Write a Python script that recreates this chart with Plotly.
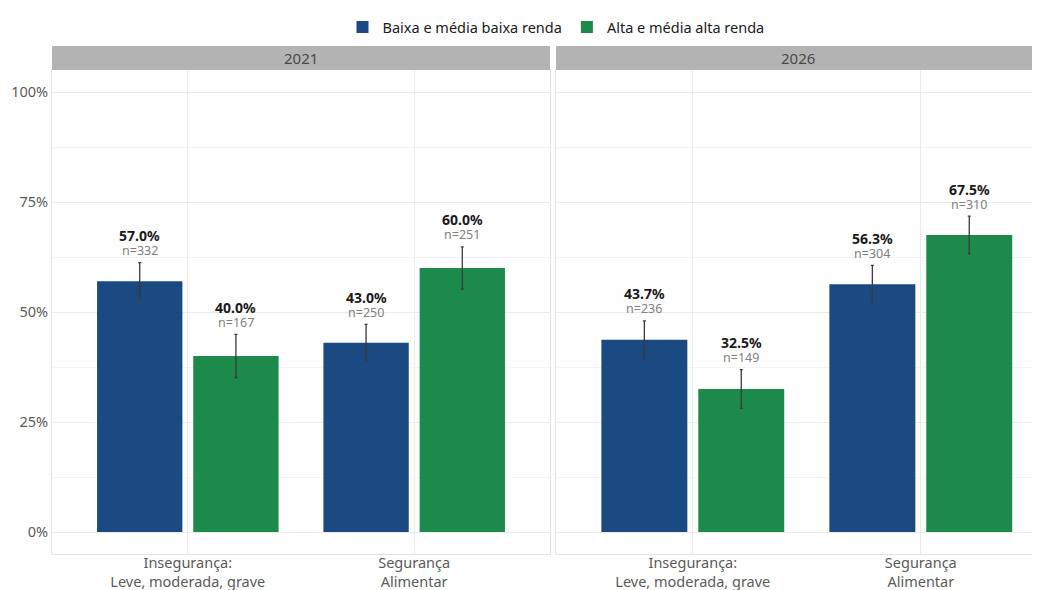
import plotly.graph_objects as go

categories = ["Insegurança:<br>Leve, moderada, grave", "Segurança<br>Alimentar"]
years = ["2021", "2026"]
series_names = ["Baixa e média baixa renda", "Alta e média alta renda"]
colors = ["#1B4A82", "#1C8A4A"]

values_2021 = {"low": [57.0, 43.0], "high": [40.0, 60.0]}
values_2026 = {"low": [43.7, 56.3], "high": [32.5, 67.5]}
err_2021 = {"low": [4.2, 4.2], "high": [4.9, 4.8]}
err_2026 = {"low": [4.3, 4.3], "high": [4.4, 4.3]}
n_2021 = {"low": [332, 250], "high": [167, 251]}
n_2026 = {"low": [236, 304], "high": [149, 310]}

panels = [
    (values_2021, err_2021, n_2021, "x", "y"),
    (values_2026, err_2026, n_2026, "x2", "y2"),
]

BARGAP = 0.15
GROUPGAP = 0.113
slot = (1 - BARGAP) / 2

fig = go.Figure()
annotations = []
FONT = "Noto Sans"
for pi, (vals, errs, ns, xa, ya) in enumerate(panels):
    for si, key in enumerate(["low", "high"]):
        fig.add_trace(go.Bar(
            x=categories, y=vals[key], name=series_names[si],
            marker=dict(color=colors[si], line=dict(width=0)),
            error_y=dict(type="data", array=errs[key], color="#3a3a3a", thickness=1.3, width=1.5),
            xaxis=xa, yaxis=ya, showlegend=(pi == 0),
            legendgroup=key,
        ))
        off = -slot / 2 if si == 0 else slot / 2
        for ci in range(len(categories)):
            top = vals[key][ci] + errs[key][ci]
            annotations.append(dict(
                x=ci + off, y=top, xref=xa, yref=ya, text="<b>%.1f%%</b>" % vals[key][ci],
                showarrow=False, yanchor="middle", yshift=27,
                font=dict(family=FONT, size=14, color="#1a1a1a")))
            annotations.append(dict(
                x=ci + off, y=top, xref=xa, yref=ya, text="n=%d" % ns[key][ci],
                showarrow=False, yanchor="middle", yshift=12,
                font=dict(family=FONT, size=12.5, color="#808080")))

# page body has an 8px margin: figure occupies (8,8)-(1040,590)
OFF = 8
W, H = 1040 - OFF, 590 - OFF
ml, mr, mt, mb = 52 - OFF, 0, 70 - OFF, 36
pw = W - ml - mr
ph = H - mt - mb
x1_end = (550 - 52) / pw
x2_start = (556 - 52) / pw
strip_h = 24 / ph

shapes = []
for xa, ya, yr in [("x", "y", years[0]), ("x2", "y2", years[1])]:
    shapes.append(dict(type="rect", xref=xa + " domain", yref=ya + " domain",
                       x0=0, x1=1, y0=1, y1=1 + strip_h, fillcolor="#B3B3B3",
                       line=dict(width=0), layer="above"))
    annotations.append(dict(xref=xa + " domain", yref=ya + " domain", x=0.5,
                            y=1 + strip_h / 2, text=yr, showarrow=False,
                            yanchor="middle", font=dict(family=FONT, size=15, color="#4a4a4a")))

axis_common = dict(showline=True, mirror=True, linecolor="#E3E3E3", linewidth=1,
                   gridcolor="#EBEBEB", gridwidth=1, ticks="", zeroline=False,
                   automargin=False,
                   tickfont=dict(family=FONT, size=14.5, color="#5a5a5a"))

fig.update_layout(
    width=W, height=H,
    margin=dict(l=ml, r=mr, t=mt, b=mb, autoexpand=False),
    paper_bgcolor="white", plot_bgcolor="white",
    barmode="group", bargap=BARGAP, bargroupgap=GROUPGAP,
    font=dict(family=FONT, color="#555555"),
    legend=dict(orientation="h", x=(556 - 52) / pw, xanchor="center",
                y=(590 - mb - 27) / ph, yanchor="middle",
                font=dict(family=FONT, size=14.5, color="#1a1a1a"),
                itemwidth=30, tracegroupgap=0, traceorder="normal"),
    xaxis=dict(domain=[0, x1_end], range=[-0.6, 1.6], type="category",
               ticklabelstandoff=-4, **axis_common),
    xaxis2=dict(domain=[x2_start, 1], range=[-0.6, -0.6 + (1040 - 556) / 228], type="category",
                anchor="y2", ticklabelstandoff=-4, **axis_common),
    yaxis=dict(range=[-5, 105], tickvals=[0, 25, 50, 75, 100],
               ticktext=["0%", "25%", "50%", "75%", "100%"],
               minor=dict(tickvals=[12.5, 37.5, 62.5, 87.5], showgrid=True, gridcolor="#F4F4F4"),
               ticklabelstandoff=0, **axis_common),
    yaxis2=dict(range=[-5, 105], tickvals=[0, 25, 50, 75, 100], showticklabels=False,
                minor=dict(tickvals=[12.5, 37.5, 62.5, 87.5], showgrid=True, gridcolor="#F4F4F4"),
                anchor="x2", matches="y", **axis_common),
    shapes=shapes,
    annotations=annotations,
)

fig.write_html("out.html")
